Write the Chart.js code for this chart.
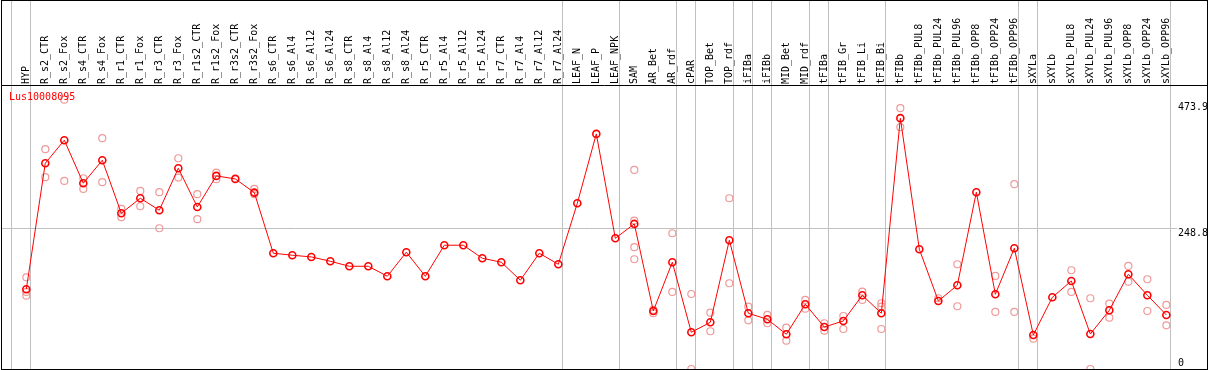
<!DOCTYPE html>
<html>
<head>
<meta charset="utf-8">
<script src="https://cdn.jsdelivr.net/npm/chart.js@4.4.0/dist/chart.umd.min.js"></script>
<style>
  html, body { margin: 0; padding: 0; background: #fff; }
</style>
</head>
<body>
<canvas id="grafico" width="1209" height="370"></canvas>
<script>
// Gen mostrado arriba a la izquierda
var nombreGen = 'Lus10008095';

// Muestras (eje x)
var categorias = ['HYP', 'R_s2_CTR', 'R_s2_Fox', 'R_s4_CTR', 'R_s4_Fox', 'R_r1_CTR', 'R_r1_Fox',
    'R_r3_CTR', 'R_r3_Fox', 'R_r1s2_CTR', 'R_r1s2_Fox', 'R_r3s2_CTR', 'R_r3s2_Fox',
    'R_s6_CTR', 'R_s6_Al4', 'R_s6_Al12', 'R_s6_Al24', 'R_s8_CTR', 'R_s8_Al4', 'R_s8_Al12', 'R_s8_Al24',
    'R_r5_CTR', 'R_r5_Al4', 'R_r5_Al12', 'R_r5_Al24', 'R_r7_CTR', 'R_r7_Al4', 'R_r7_Al12', 'R_r7_Al24',
    'LEAF_N', 'LEAF_P', 'LEAF_NPK', 'SAM', 'AR_Bet', 'AR_rdf', 'cPAR', 'TOP_Bet', 'TOP_rdf',
    'iFIBa', 'iFIBb', 'MID_Bet', 'MID_rdf', 'tFIBa', 'tFIB_Gr', 'tFIB_Li', 'tFIB_Bi', 'tFIBb',
    'tFIBb_PUL8', 'tFIBb_PUL24', 'tFIBb_PUL96', 'tFIBb_OPP8', 'tFIBb_OPP24', 'tFIBb_OPP96',
    'sXYLa', 'sXYLb', 'sXYLb_PUL8', 'sXYLb_PUL24', 'sXYLb_PUL96', 'sXYLb_OPP8', 'sXYLb_OPP24', 'sXYLb_OPP96'];

// Valor medio por muestra (linea roja)
var media = [140.3, 362.1, 402.6, 326.9, 367.4, 274.1, 300.5, 279.4, 353.3, 285.2, 339.8, 334.5, 310.4,
    203.7, 200.2, 197.2, 189.6, 180.8, 180.8, 163.2, 205.5, 163.2, 217.8, 217.8, 194.9, 187.9, 156.2, 203.7, 184.3,
    291.7, 413.7, 230.1,
    255.3, 102.1, 187.9, 64.6, 82.2, 226.6, 98.1, 87.5, 61.1, 113.9,
    73.9, 84.5, 129.8, 98.1, 441.4,
    210.7, 119.7, 147.4, 311.1, 131.5, 212.5,
    59.9, 126.2,
    154.9, 61.6, 103.3, 166.7, 129.8, 95.1];

// Replicas (circulos claros), null donde no hay
var rep1 = [161.4, 386.8, 473.9, 335.7, 406.2, 281.7, 313.4, 311.1, 370.9, 307.6, 345.6, null, 316.9,
    null, null, null, null, null, null, null, null, null, null, null, null, null, null, null, null,
    null, null, null,
    350.4, 103.9, 238.9, 132.0, 99.1, 300.5, 109.7, 95.1, 72.7, 121.5,
    80.5, 93.3, 136.1, 115.7, 459.0,
    null, 124.5, 184.3, null, 163.7, 325.2,
    53.3, null,
    173.8, 124.5, 115.0, 181.3, 157.9, 112.7];

var rep2 = [135.6, 337.5, 331.0, 316.9, 328.7, 267.1, 286.4, 247.7, 336.8, 263.6, 334.0, null, 307.6,
    null, null, null, null, null, null, null, null, null, null, null, null, null, null, null, null,
    null, null, null,
    261.1, 98.1, 135.6, 0, 66.4, 150.9, 85.7, 80.5, 49.8, 106.2,
    67.4, 70.4, 121.5, 109.7, 425.5,
    null, null, 110.4, null, 100.4, 100.4,
    null, null,
    135.6, 0, 90.3, 153.7, 102.1, 76.9];

var rep3 = [129.0, null, null, null, null, null, null, null, null, null, null, null, null,
    null, null, null, null, null, null, null, null, null, null, null, null, null, null, null, null,
    null, null, null,
    214.3, null, null, null, null, null, null, null, null, null,
    null, null, null, 70.4, null,
    null, null, null, null, null, null,
    null, null,
    null, null, null, null, null, null];

var rep4 = [null, null, null, null, null, null, null, null, null, null, null, null, null,
    null, null, null, null, null, null, null, null, null, null, null, null, null, null, null, null,
    null, null, null,
    193.1, null, null, null, null, null, null, null, null, null,
    null, null, null, null, null,
    null, null, null, null, null, null,
    null, null,
    null, null, null, null, null, null];

// Etiquetas del eje y
var yTicks = [0, 248.8, 473.9];

// Lineas grises de separacion (despues de estas muestras)
var separadores = [-1, 0, 28, 31, 34, 35, 37, 38, 39, 41, 42, 45, 52, 53, 60];

var fuente = '"DejaVu Sans Mono", monospace';

function puntos(valores) {
    return valores
        .map(function (v, i) { return { x: i, y: v }; })
        .filter(function (p) { return p.y !== null; });
}

function datasetReplica(valores) {
    return {
        data: puntos(valores),
        showLine: false,
        pointRadius: 3.5,
        pointBorderWidth: 1.2,
        pointBorderColor: '#ef9a9a',
        pointBackgroundColor: 'rgba(0,0,0,0)'
    };
}

// Marco, separadores, titulo y etiquetas del eje y
var marcoPlugin = {
    id: 'marco',
    beforeDatasetsDraw: function (chart) {
        var ctx = chart.ctx, xs = chart.scales.x, ys = chart.scales.y;
        ctx.save();
        ctx.strokeStyle = '#c0c0c0';
        ctx.lineWidth = 1;
        separadores.forEach(function (i) {
            var px = Math.round(xs.getPixelForValue(i) + 4) + 0.5;
            ctx.beginPath();
            ctx.moveTo(px, 0);
            ctx.lineTo(px, chart.height);
            ctx.stroke();
        });
        var py = Math.round(ys.getPixelForValue(yTicks[1])) + 0.5;
        ctx.beginPath();
        ctx.moveTo(chart.chartArea.left, py);
        ctx.lineTo(1177, py);
        ctx.stroke();
        ctx.restore();
    },
    afterDraw: function (chart) {
        var ctx = chart.ctx, ys = chart.scales.y, area = chart.chartArea;
        ctx.save();
        ctx.strokeStyle = '#000';
        ctx.lineWidth = 1;
        ctx.strokeRect(1.5, 0.5, 1206, 369);
        ctx.beginPath();
        ctx.moveTo(1, 85.5);
        ctx.lineTo(1208, 85.5);
        ctx.stroke();

        ctx.font = '10px ' + fuente;
        ctx.textBaseline = 'top';
        ctx.textAlign = 'left';
        ctx.fillStyle = '#ff0000';
        ctx.fillText(nombreGen, 9, 92);

        ctx.fillStyle = '#000';
        yTicks.forEach(function (v) {
            var py = ys.getPixelForValue(v) + 1;
            py = Math.min(Math.max(py, 102), area.bottom - 11);
            ctx.fillText(String(v), 1178, py);
        });
        ctx.restore();
    }
};

var ctx = document.getElementById('grafico').getContext('2d');
var grafico = new Chart(ctx, {
    type: 'line',
    data: {
        datasets: [
            {
                data: puntos(media),
                borderColor: '#ff0000',
                borderWidth: 1,
                tension: 0,
                pointRadius: 3.5,
                pointBorderWidth: 1.6,
                pointBorderColor: '#ff0000',
                pointBackgroundColor: 'rgba(0,0,0,0)'
            },
            datasetReplica(rep1),
            datasetReplica(rep2),
            datasetReplica(rep3),
            datasetReplica(rep4)
        ]
    },
    options: {
        responsive: false,
        animation: false,
        devicePixelRatio: 1,
        layout: { autoPadding: false, padding: { left: 2, right: 2, top: 0, bottom: 1 } },
        plugins: {
            legend: { display: false },
            tooltip: { enabled: false }
        },
        scales: {
            x: {
                type: 'linear',
                position: 'top',
                min: -1.279,
                max: 62.14,
                grid: { display: false, drawTicks: false },
                border: { display: false },
                afterBuildTicks: function (s) {
                    s.ticks = categorias.map(function (c, i) { return { value: i }; });
                },
                afterFit: function (s) {
                    s.height = 86;
                    s.paddingLeft = 0;
                    s.paddingRight = 0;
                },
                ticks: {
                    autoSkip: false,
                    minRotation: 90,
                    maxRotation: 90,
                    padding: 2,
                    labelOffset: 12,
                    color: '#000',
                    font: { family: fuente, size: 10 },
                    callback: function (v) { return categorias[v]; }
                }
            },
            y: {
                display: false,
                min: 0,
                max: 498
            }
        }
    },
    plugins: [marcoPlugin]
});
</script>
</body>
</html>
